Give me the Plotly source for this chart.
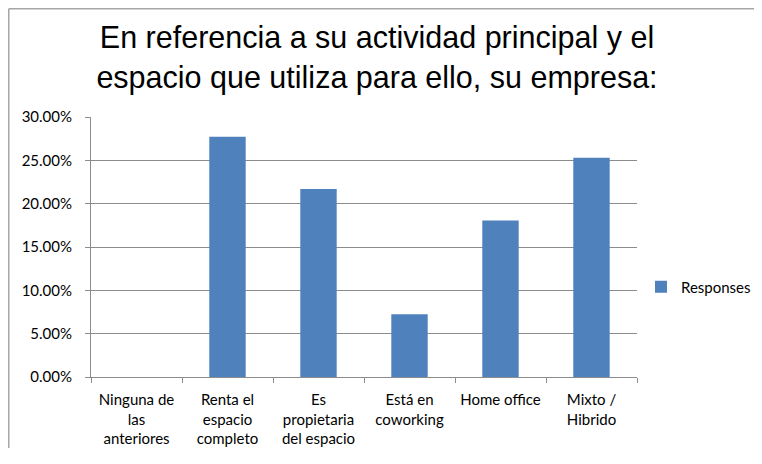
import plotly.graph_objects as go

categories = ["Ninguna de<br>las<br>anteriores", "Renta el<br>espacio<br>completo",
              "Es<br>propietaria<br>del espacio", "Está en<br>coworking",
              "Home office", "Mixto /<br>Hibrido"]
responses = [0.0, 0.2771, 0.2169, 0.0723, 0.1807, 0.2530]
y_ticks = [0, 0.05, 0.10, 0.15, 0.20, 0.25, 0.30]
y_tick_labels = ["0.00%", "5.00%", "10.00%", "15.00%", "20.00%", "25.00%", "30.00%"]

# page body has an 8px margin, so the figure is drawn 8px right/down;
# keep it inside the window so no scrollbars appear
W, H = 746, 440
L, R, T, B = 83, 117, 109, 71
pw, ph = W - L - R, H - T - B

fig = go.Figure()
fig.add_trace(go.Bar(
    x=categories, y=responses, name="Responses",
    marker=dict(color="#4F81BD", line=dict(width=0)),
    showlegend=True,
))

grid = "#8C8C8C"
border = dict(color="#A6A6A6", width=1.5)
fig.update_layout(
    width=W, height=H,
    margin=dict(l=L, r=R, t=T, b=B, autoexpand=False),
    paper_bgcolor="white", plot_bgcolor="white",
    font=dict(family="Lato, Liberation Sans, sans-serif", size=15, color="black"),
    title=dict(
        text="En referencia a su actividad principal y el<br>espacio que utiliza para ello, su empresa:",
        font=dict(family="Liberation Sans, Arial, sans-serif", size=30.5, color="black"),
        x=369 / W, xref="container", xanchor="center",
        y=1 - 40 / H, yref="container", yanchor="top",
    ),
    bargap=0.6,
    showlegend=True,
    legend=dict(
        x=(633 - L) / pw, xanchor="left", y=(H - B - 279) / ph, yanchor="middle",
        font=dict(size=15), bgcolor="rgba(0,0,0,0)",
        itemwidth=30,
    ),
    xaxis=dict(
        type="category", tickson="boundaries", ticks="outside", ticklen=5,
        tickcolor=grid, showline=True, linecolor=grid, linewidth=1,
        showgrid=False, tickfont=dict(size=15), fixedrange=True, automargin=False,
        ticklabelstandoff=9,
    ),
    yaxis=dict(
        range=[0, 0.30], tickvals=y_ticks, ticktext=y_tick_labels,
        ticks="outside", ticklen=5, tickcolor=grid,
        showline=True, linecolor=grid, linewidth=1,
        showgrid=True, gridcolor=grid, gridwidth=1, zeroline=False,
        tickfont=dict(size=15), fixedrange=True, automargin=False,
        ticklabelstandoff=10,
    ),
    shapes=[
        dict(type="line", xref="paper", yref="paper",
             x0=(0.75 - L) / pw, x1=(0.75 - L) / pw,
             y0=(H - B - H) / ph, y1=(H - B - 0.75) / ph, line=border, layer="below"),
        dict(type="line", xref="paper", yref="paper",
             x0=(0.75 - L) / pw, x1=(W - L) / pw,
             y0=(H - B - 0.75) / ph, y1=(H - B - 0.75) / ph, line=border, layer="below"),
    ],
)

fig.write_html("out.html")
